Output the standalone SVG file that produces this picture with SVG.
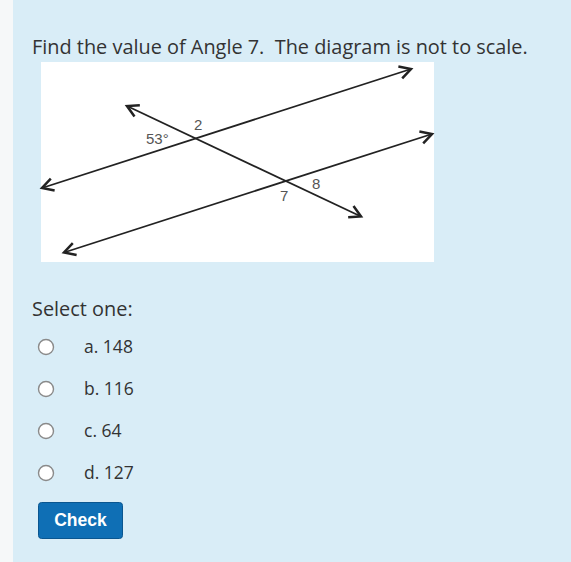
<svg xmlns="http://www.w3.org/2000/svg" width="571" height="562" viewBox="0 0 571 562">
<defs>
<style>
.q{font-family:"Open Sans","Liberation Sans",sans-serif;fill:#333;white-space:pre}
.lbl{font-family:"Liberation Sans",Arial,sans-serif;fill:#555;font-size:15px}
.ln{stroke:#222;stroke-width:1.8;fill:none}
.radio{fill:#fff;stroke:#8a8a8a;stroke-width:1.4}
</style>
<marker id="arr" markerUnits="userSpaceOnUse" markerWidth="20" markerHeight="20" viewBox="-12 -8 14 16" refX="0" refY="0" orient="auto-start-reverse">
<path d="M -9 -5 L 0 0 L -9 5" fill="none" stroke="#222" stroke-width="2"/>
</marker>
</defs>
<rect x="0" y="0" width="571" height="562" fill="#d9edf7"/>
<rect x="0" y="0" width="13" height="562" fill="#f6f8f9"/>
<text class="q" x="32" y="54" font-size="19.9" xml:space="preserve">Find the value of Angle 7.  The diagram is not to scale.</text>
<g id="figure">
<rect x="41" y="62" width="393" height="200" fill="#ffffff"/>
<g id="connectors">
<path class="ln" d="M 42 188 L 411 69" marker-start="url(#arr)" marker-end="url(#arr)"/>
<path class="ln" d="M 64 252.5 L 432 134" marker-start="url(#arr)" marker-end="url(#arr)"/>
<path class="ln" d="M 127 106 L 361 216.5" marker-start="url(#arr)" marker-end="url(#arr)"/>
</g>
<text class="lbl" x="146" y="144">53°</text>
<text class="lbl" x="194" y="130">2</text>
<text class="lbl" x="312" y="189">8</text>
<text class="lbl" x="280" y="201">7</text>
</g>
<text class="q" x="32" y="316" font-size="19.9">Select one:</text>
<g id="optA"><circle class="radio" cx="46" cy="347" r="7.5"/><text class="q" x="84" y="353" font-size="17.5">a. 148</text></g>
<g id="optB"><circle class="radio" cx="46" cy="389" r="7.5"/><text class="q" x="84" y="395" font-size="17.5">b. 116</text></g>
<g id="optC"><circle class="radio" cx="46" cy="431" r="7.5"/><text class="q" x="84" y="437" font-size="17.5">c. 64</text></g>
<g id="optD"><circle class="radio" cx="46" cy="473" r="7.5"/><text class="q" x="84" y="479" font-size="17.5">d. 127</text></g>
<g id="check">
<rect x="38.5" y="502.5" width="84" height="36" rx="3" fill="#0f6fb5" stroke="#0a5690" stroke-width="1"/>
<text x="80.5" y="526" text-anchor="middle" font-family="Liberation Sans,Arial,sans-serif" font-weight="bold" font-size="17.5" fill="#fff">Check</text>
</g>
</svg>
